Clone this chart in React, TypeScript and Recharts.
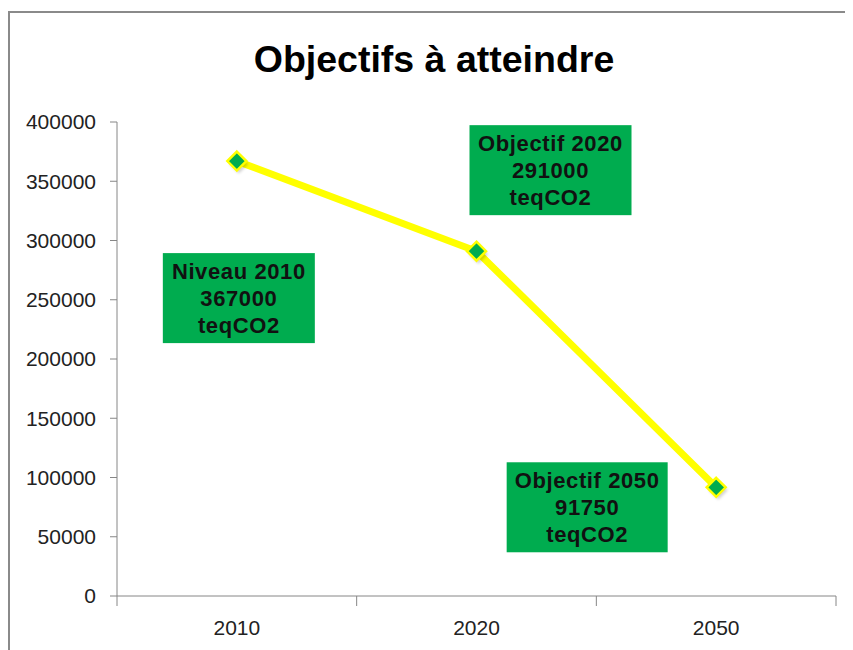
import React from "react";
import { LineChart, Line, XAxis, YAxis, LabelList } from "recharts";

const categories = ["2010", "2020", "2050"];
const emissions = [367000, 291000, 91750];
const yTicks = [0, 50000, 100000, 150000, 200000, 250000, 300000, 350000, 400000];
const boxTitles = ["Niveau 2010", "Objectif 2020", "Objectif 2050"];
const boxValues = ["367000", "291000", "91750"];
const boxUnits = ["teqCO2", "teqCO2", "teqCO2"];
const chartTitle = "Objectifs à atteindre";

const data = categories.map((c, i) => ({
  year: c,
  value: emissions[i],
  lines: [boxTitles[i], boxValues[i], boxUnits[i]],
}));

const W = 843;
const H = 637;
const M = { top: 109, right: 17, left: 0, bottom: 0 };
const Y_W = 107;
const X_H = 54;
const BAND = (W - M.left - M.right - Y_W) / categories.length;

// box placement relative to the data point (center offset), and size
const boxGeom = [
  { dx: 2, dy: 137, w: 152, h: 90 },
  { dx: 74, dy: -81, w: 162, h: 90 },
  { dx: -129, dy: 20, w: 161, h: 90 },
];

const GREEN = "#00AC4F";
const AXIS = "#868686";
const FONT = "'Liberation Sans', Arial, sans-serif";

const Diamond = (props: any) => {
  const { cx, cy, index } = props;
  if (cx == null || cy == null) return null;
  const r = 9.5;
  const pts = (x: number, y: number) =>
    `${x},${y - r} ${x + r},${y} ${x},${y + r} ${x - r},${y}`;
  return (
    <g key={`d${index}`}>
      <polygon points={pts(cx + 2, cy + 3)} fill="#000" opacity={0.18} filter="url(#blurShadow)" />
      <polygon points={pts(cx, cy)} fill={GREEN} stroke="#FFFF00" strokeWidth={2.5} />
    </g>
  );
};

const AnnotBox = (props: any) => {
  const { x, y, index } = props;
  if (x == null || y == null) return null;
  const g = boxGeom[index];
  const row = data[index];
  const cx = x + g.dx;
  const cy = y + g.dy;
  return (
    <g key={`b${index}`}>
      <rect x={cx - g.w / 2} y={cy - g.h / 2} width={g.w} height={g.h} fill={GREEN} />
      {row.lines.map((t: string, k: number) => (
        <text
          key={k}
          x={cx}
          y={cy - 27 + k * 27}
          textAnchor="middle"
          dominantBaseline="central"
          fontFamily={FONT}
          fontWeight="bold"
          fontSize={22}
          letterSpacing={0.6}
          fill="#111"
        >
          {t}
        </text>
      ))}
    </g>
  );
};

const XTick = (props: any) => {
  const { x, y, payload, index } = props;
  const axisY = y;
  return (
    <g>
      <line x1={x - BAND / 2} y1={axisY} x2={x - BAND / 2} y2={axisY + 10} stroke={AXIS} strokeWidth={1} />
      {index === categories.length - 1 && (
        <line x1={x + BAND / 2} y1={axisY} x2={x + BAND / 2} y2={axisY + 10} stroke={AXIS} strokeWidth={1} />
      )}
      <text
        x={x}
        y={axisY + 31}
        textAnchor="middle"
        dominantBaseline="central"
        fontFamily={FONT}
        fontSize={21}
        fill="#222"
      >
        {payload.value}
      </text>
    </g>
  );
};

export default function App() {
  return (
    <div
      style={{
        marginTop: 3,
        width: 845,
        height: 639,
        borderTop: "2px solid #8a8a8a",
        borderLeft: "2px solid #8a8a8a",
        position: "relative",
        background: "#fff",
      }}
    >
      <LineChart width={W} height={H} data={data} margin={M}>
        <defs>
          <filter id="blurShadow" x="-50%" y="-50%" width="200%" height="200%">
            <feGaussianBlur stdDeviation="1.5" />
          </filter>
        </defs>
        <text
          x={424}
          y={59}
          textAnchor="middle"
          fontFamily={FONT}
          fontWeight="bold"
          fontSize={37.5}
          fill="#000"
        >
          {chartTitle}
        </text>
        <XAxis
          dataKey="year"
          scale="band"
          height={X_H}
          axisLine={{ stroke: AXIS, strokeWidth: 1 }}
          tickLine={false}
          tickSize={0}
          tickMargin={0}
          tick={<XTick />}
          interval={0}
        />
        <YAxis
          domain={[0, 400000]}
          ticks={yTicks}
          width={Y_W}
          axisLine={{ stroke: AXIS }}
          tickLine={{ stroke: AXIS }}
          tickSize={7}
          tickMargin={14}
          interval={0}
          tick={{ fontFamily: FONT, fontSize: 21, fill: "#222" }}
        />
        <Line
          dataKey="value"
          stroke="#FFFF00"
          strokeWidth={7}
          isAnimationActive={false}
          dot={(p: any) => <Diamond {...p} />}
          activeDot={false}
        >
          <LabelList dataKey="value" content={(p: any) => <AnnotBox {...p} />} />
        </Line>
      </LineChart>
    </div>
  );
}
